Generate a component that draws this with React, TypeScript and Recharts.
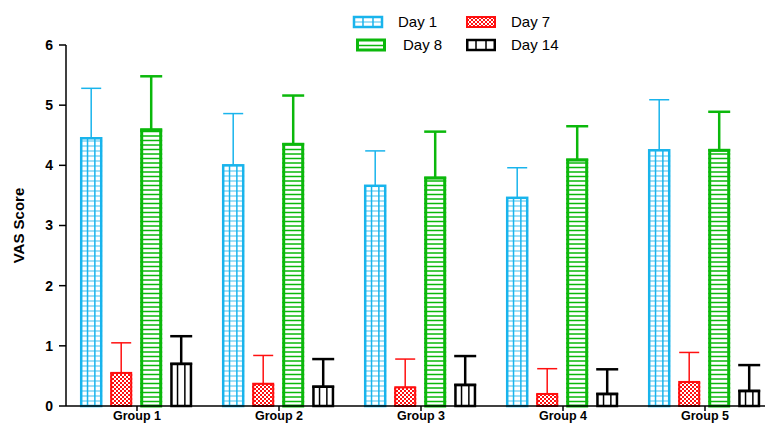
import React from 'react';
import { BarChart, Bar, XAxis, YAxis, ErrorBar } from 'recharts';

const groups = ['Group 1', 'Group 2', 'Group 3', 'Group 4', 'Group 5'];
const day1 = [4.45, 4.0, 3.66, 3.46, 4.25];
const day1Sd = [0.83, 0.86, 0.58, 0.5, 0.84];
const day7 = [0.55, 0.37, 0.31, 0.2, 0.4];
const day7Sd = [0.5, 0.47, 0.47, 0.42, 0.49];
const day8 = [4.59, 4.35, 3.79, 4.09, 4.25];
const day8Sd = [0.89, 0.81, 0.77, 0.56, 0.64];
const day14 = [0.7, 0.32, 0.35, 0.2, 0.25];
const day14Sd = [0.46, 0.46, 0.48, 0.41, 0.43];
const yTicks = [0, 1, 2, 3, 4, 5, 6];

const data = groups.map((g, i) => ({
  name: g,
  d1: day1[i],
  d1e: [0, day1Sd[i]],
  d7: day7[i],
  d7e: [0, day7Sd[i]],
  d8: day8[i],
  d8e: [0, day8Sd[i]],
  d14: day14[i],
  d14e: [0, day14Sd[i]],
}));

const BLUE = '#19b4ec';
const RED = '#ff1010';
const GREEN = '#0bb80b';
const BLACK = '#000';

const hLines = (x: number, y: number, w: number, h: number, step: number, color: string, sw: number) => {
  const out = [];
  let k = 0;
  for (let yy = y + h - step; yy > y + 1; yy -= step) {
    out.push(<line key={`h${k++}`} x1={x} x2={x + w} y1={yy} y2={yy} stroke={color} strokeWidth={sw} />);
  }
  return out;
};

const vLines = (x: number, y: number, w: number, h: number, color: string, sw: number) => [1, 2].map((j) => (
  <line key={`v${j}`} x1={x + (w * j) / 3} x2={x + (w * j) / 3} y1={y} y2={y + h} stroke={color} strokeWidth={sw} />
));

const GridBar = (props: any) => {
  const { x, y, width: w, height: h } = props;
  if (!h || h <= 0) return null;
  return (
    <g>
      <rect x={x} y={y} width={w} height={h} fill="#fff" />
      {hLines(x, y, w, h, 5, '#7fd4f4', 1.5)}
      {vLines(x, y, w, h, BLUE, 1.5)}
      <rect x={x + 1} y={y} width={w - 2} height={h} fill="none" stroke={BLUE} strokeWidth={2.5} />
    </g>
  );
};

const CheckBar = (props: any) => {
  const { x, y, width: w, height: h } = props;
  if (!h || h <= 0) return null;
  return (
    <g>
      <rect x={x} y={y} width={w} height={h} fill="url(#checker)" />
      <rect x={x + 1} y={y} width={w - 2} height={h} fill="none" stroke={RED} strokeWidth={2} />
    </g>
  );
};

const LineBar = (props: any) => {
  const { x, y, width: w, height: h } = props;
  if (!h || h <= 0) return null;
  return (
    <g>
      <rect x={x} y={y} width={w} height={h} fill="#fff" />
      {hLines(x, y, w, h, 4.5, GREEN, 1.5)}
      <rect x={x + 1.5} y={y} width={w - 3} height={h} fill="none" stroke={GREEN} strokeWidth={3} />
    </g>
  );
};

const StripeBar = (props: any) => {
  const { x, y, width: w, height: h } = props;
  if (!h || h <= 0) return null;
  return (
    <g>
      <rect x={x} y={y} width={w} height={h} fill="#fff" />
      {vLines(x, y, w, h, BLACK, 1.5)}
      <rect x={x + 1.25} y={y} width={w - 2.5} height={h} fill="none" stroke={BLACK} strokeWidth={2.5} />
    </g>
  );
};

const legendItems = [
  { label: 'Day 1', Shape: GridBar, left: 352, top: 13 },
  { label: 'Day 7', Shape: CheckBar, left: 465, top: 13 },
  { label: 'Day 8', Shape: LineBar, left: 355, top: 36 },
  { label: 'Day 14', Shape: StripeBar, left: 465, top: 36 },
];

const Legend = () => (
  <>
    {legendItems.map(({ label, Shape, left, top }) => (
      <div key={label} style={{ position: 'absolute', left, top, display: 'flex', alignItems: 'center' }}>
        <svg width={32} height={14}>
          <Shape x={1} y={2} width={30} height={10} />
        </svg>
        <span style={{ marginLeft: label === 'Day 8' ? 16 : 14, fontSize: 15, fontFamily: 'Liberation Sans, Arial, sans-serif' }}>{label}</span>
      </div>
    ))}
  </>
);

export default function App() {
  return (
    <div style={{ position: 'absolute', left: 0, top: 0, width: 765, height: 424, overflow: 'hidden', background: '#fff' }}>
      <svg width={0} height={0} style={{ position: 'absolute' }}>
        <defs>
          <pattern id="checker" width={4} height={4} patternUnits="userSpaceOnUse">
            <rect width={4} height={4} fill={RED} />
            <rect width={2} height={2} fill="#fff" />
            <rect x={2} y={2} width={2} height={2} fill="#fff" />
          </pattern>
        </defs>
      </svg>
      <Legend />
      <BarChart
        width={790}
        height={446}
        data={data}
        margin={{ top: 45, right: 14, left: 0, bottom: 0 }}
        barCategoryGap="10%"
        barGap={8}
        style={{ fontFamily: 'Liberation Sans, Arial, sans-serif' }}
      >
        <XAxis
          dataKey="name"
          height={40}
          tickSize={5}
          tickMargin={0}
          axisLine={{ stroke: '#000', strokeWidth: 1.5 }}
          tickLine={{ stroke: '#000', strokeWidth: 1.5 }}
          tick={{ fill: '#000', fontSize: 12.5, fontWeight: 'bold' }}
        />
        <YAxis
          width={66}
          domain={[0, 6]}
          ticks={yTicks}
          tickSize={7}
          tickMargin={6}
          axisLine={{ stroke: '#000', strokeWidth: 1.5 }}
          tickLine={{ stroke: '#000', strokeWidth: 1.5 }}
          tick={{ fill: '#000', fontSize: 14, fontWeight: 'bold' }}
          label={{ value: 'VAS Score', angle: -90, position: 'insideLeft', offset: 19, style: { fill: '#000', fontSize: 15, fontWeight: 'bold', textAnchor: 'middle' } }}
        />
        <Bar dataKey="d1" shape={GridBar} isAnimationActive={false}>
          <ErrorBar dataKey="d1e" width={10} stroke={BLUE} strokeWidth={1.5} direction="y" />
        </Bar>
        <Bar dataKey="d7" shape={CheckBar} isAnimationActive={false}>
          <ErrorBar dataKey="d7e" width={10} stroke={RED} strokeWidth={1.5} direction="y" />
        </Bar>
        <Bar dataKey="d8" shape={LineBar} isAnimationActive={false}>
          <ErrorBar dataKey="d8e" width={11} stroke={GREEN} strokeWidth={2.5} direction="y" />
        </Bar>
        <Bar dataKey="d14" shape={StripeBar} isAnimationActive={false}>
          <ErrorBar dataKey="d14e" width={11} stroke={BLACK} strokeWidth={2.5} direction="y" />
        </Bar>
      </BarChart>
    </div>
  );
}
